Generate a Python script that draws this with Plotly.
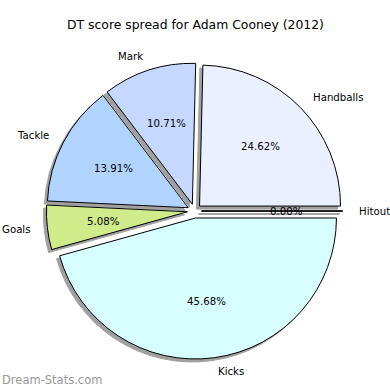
import math
import plotly.graph_objects as go

labels = ["Handballs", "Mark", "Tackle", "Goals", "Kicks", "Hitout"]
values = [24.62, 10.71, 13.91, 5.08, 45.68, 0.00]
colors = ["#EAF0FF", "#C5D8FF", "#B0D4FF", "#D0EB8A", "#D8FFFF", "#FFFFFF"]
title = "DT score spread for Adam Cooney (2012)"
watermark = "Dream-Stats.com"

W = H = 390
cx, cy = 194.5, 211        # pie centre in pixels (from top-left)
R = 141                    # radius in pixels
PULL = 0.05
SH = 3                     # shadow offset in pixels

ext = R * (1 + PULL)
total = sum(values)
# plotly (counterclockwise): first slice ends at the rotation angle
rot = 90 - 360.0 * values[0] / total

def dom(dx=0, dy=0):
    x0 = (cx - ext + dx) / W
    x1 = (cx + ext + dx) / W
    yb = H - cy - dy
    y0 = (yb - ext) / H
    y1 = (yb + ext) / H
    return dict(x=[x0, x1], y=[y0, y1])

fig = go.Figure()
# shadow pie
fig.add_trace(go.Pie(
    labels=labels, values=values, sort=False, direction="counterclockwise",
    rotation=rot, pull=[PULL] * len(values), textinfo="none", hoverinfo="skip",
    marker=dict(colors=["#a0a0a0"] * len(values), line=dict(color="#a0a0a0", width=1)),
    domain=dom(-SH, SH), showlegend=False,
))
fig.add_trace(go.Pie(
    labels=labels, values=values, sort=False, direction="counterclockwise",
    rotation=rot, pull=[PULL] * len(values), textinfo="none",
    marker=dict(colors=colors, line=dict(color="#000000", width=1)),
    domain=dom(), showlegend=False,
))

annotations = []
shapes = []
start = 0.0
d = PULL * R
for lab, v in zip(labels, values):
    span = 360.0 * v / total
    mid = math.radians(start + span / 2)
    ox = cx + d * math.cos(mid)
    oy = cy - d * math.sin(mid)
    lx = ox + 1.1 * R * math.cos(mid)
    ly = oy - 1.1 * R * math.sin(mid)
    annotations.append(dict(
        x=lx / W, y=1 - ly / H, xref="paper", yref="paper", text=lab,
        showarrow=False, xanchor="left" if lx > cx else "right", yanchor="middle",
        font=dict(family="DejaVu Sans", size=10.2, color="#000"),
    ))
    px = ox + 0.6 * R * math.cos(mid)
    py = oy - 0.6 * R * math.sin(mid)
    annotations.append(dict(
        x=px / W, y=1 - py / H, xref="paper", yref="paper", text=f"{v:.2f}%",
        showarrow=False, xanchor="center", yanchor="middle",
        font=dict(family="DejaVu Sans", size=10.2, color="#000"),
    ))
    if v == 0:
        ex = ox + R * math.cos(mid)
        ey = oy - R * math.sin(mid)
        shapes.append(dict(type="line", xref="paper", yref="paper",
                           x0=(ox - SH) / W, y0=1 - (oy + SH) / H,
                           x1=(ex - SH) / W, y1=1 - (ey + SH) / H,
                           line=dict(color="#a0a0a0", width=1.5), layer="below"))
        shapes.append(dict(type="line", xref="paper", yref="paper",
                           x0=ox / W, y0=1 - oy / H, x1=ex / W, y1=1 - ey / H,
                           line=dict(color="#000000", width=1)))
    start += span

annotations.append(dict(
    x=0.5, y=1 - 25 / H, xref="paper", yref="paper", text=title, showarrow=False,
    xanchor="center", yanchor="middle", font=dict(family="DejaVu Sans", size=12.4, color="#000"),
))
annotations.append(dict(
    x=0, y=1 - 380 / H, xref="paper", yref="paper", text=watermark, showarrow=False,
    xanchor="left", yanchor="middle", font=dict(family="DejaVu Sans", size=11.5, color="#999999"),
))

fig.update_layout(
    width=W, height=H, margin=dict(l=0, r=0, t=0, b=0),
    paper_bgcolor="white", plot_bgcolor="white",
    annotations=annotations, shapes=shapes, showlegend=False,
)
fig.write_html("out.html")
